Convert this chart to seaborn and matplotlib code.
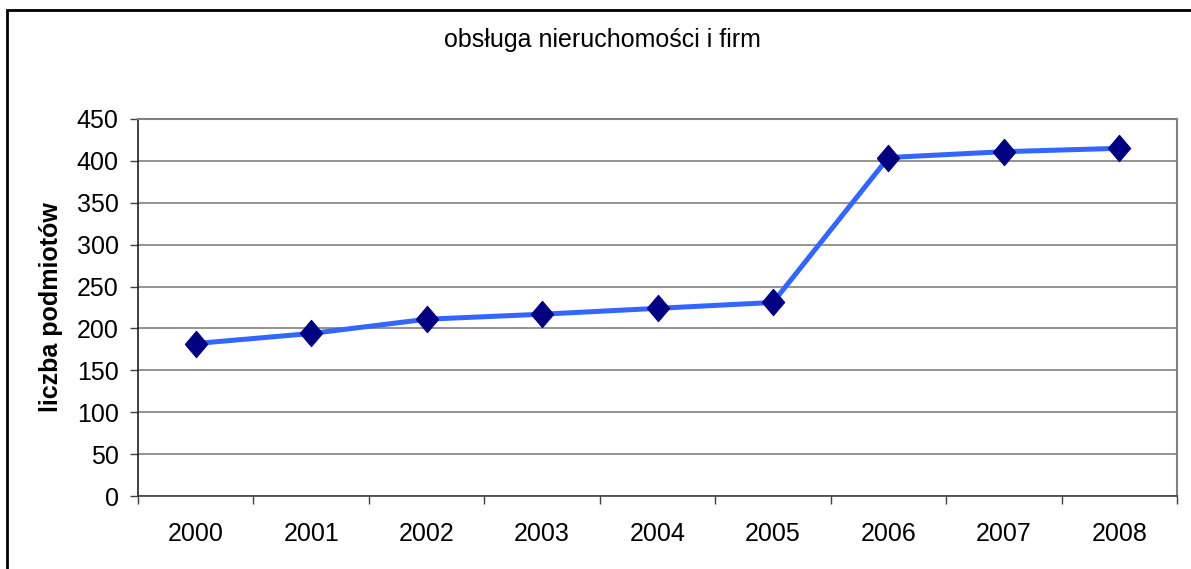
import matplotlib
matplotlib.use('Agg')
import matplotlib.pyplot as plt
import seaborn as sns
import pandas as pd
from matplotlib.patches import Rectangle

years = ['2000', '2001', '2002', '2003', '2004', '2005', '2006', '2007', '2008']
counts = [182, 194, 211, 217, 224, 231, 404, 411, 415]
title = 'obsługa nieruchomości i firm'
ylabel = 'liczba podmiotów'
yticks = [0, 50, 100, 150, 200, 250, 300, 350, 400, 450]

sns.set_style('white', {'xtick.bottom': True, 'ytick.left': True,
                        'text.color': 'black', 'xtick.color': 'black', 'ytick.color': 'black',
                        'axes.labelcolor': 'black'})
plt.rcParams['font.family'] = ['Liberation Sans', 'DejaVu Sans']

df = pd.DataFrame({'pos': range(len(years)), 'rok': years, 'liczba': counts})

W, H = 1191, 569
fig = plt.figure(figsize=(W / 100, H / 100), dpi=100)
ax = fig.add_axes([138 / W, (H - 496) / H, (1177 - 138) / W, (496 - 119) / H])

# diamond a bit taller than wide
diamond = [(-0.85, 0), (0, 1), (0.85, 0), (0, -1), (-0.85, 0)]
sns.lineplot(data=df, x='pos', y='liczba', ax=ax, color='#3366ff', linewidth=3.6,
             marker=diamond, markersize=19, markerfacecolor='#000080',
             markeredgecolor='#000080', zorder=3)

ax.set_xlim(-0.5, len(years) - 0.5)
ax.set_ylim(0, 450)
ax.set_yticks(yticks)
ax.set_yticklabels([str(v) for v in yticks], fontsize=18)
ax.yaxis.grid(True, color='#808080', linewidth=1.2)
ax.set_axisbelow(True)

# category boundaries as ticks, labels at centres
ax.set_xticks([i - 0.5 for i in range(len(years) + 1)])
ax.set_xticklabels([])
ax.set_xticks(range(len(years)), minor=True)
ax.set_xticklabels(years, minor=True, fontsize=18)
ax.tick_params(axis='x', which='major', bottom=True, length=6, width=1, color='#404040', direction='out')
ax.tick_params(axis='x', which='minor', bottom=True, length=0, pad=19)
ax.tick_params(axis='y', left=True, length=6, width=1, color='#404040', direction='out', pad=8)
ax.set_xlabel('')
ax.set_ylabel(ylabel, fontsize=18, fontweight='bold', labelpad=10, color='black')

for s in ['top', 'right']:
    ax.spines[s].set_color('#808080')
    ax.spines[s].set_linewidth(1.5)
ax.spines['left'].set_color('#202020')
ax.spines['bottom'].set_color('#404040')
for s in ['left', 'bottom']:
    ax.spines[s].set_linewidth(1.2)

fig.text(602 / W, 1 - 40 / H, title, ha='center', va='center', fontsize=18, color='black')

fig.patches.append(Rectangle((7 / W, -0.1), 1.2, 1 - 10 / H + 0.1, transform=fig.transFigure,
                             fill=False, edgecolor='black', linewidth=2))

fig.savefig('out.png', dpi=100)
